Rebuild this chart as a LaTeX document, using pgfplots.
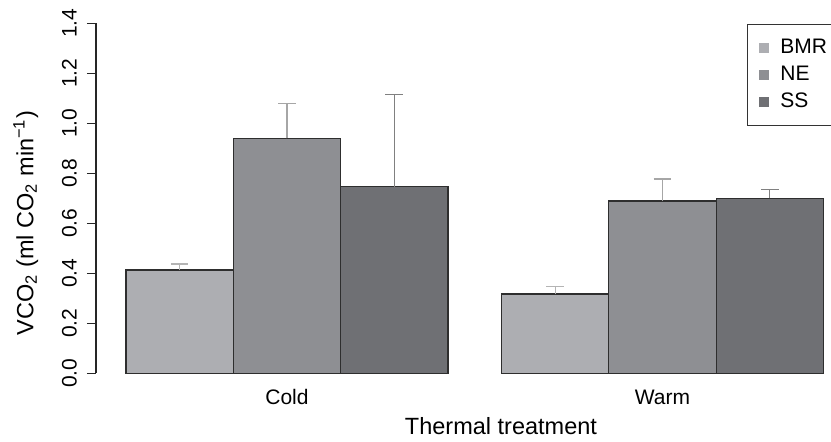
\documentclass[border=0pt]{standalone}
\usepackage{pgfplots}
\pgfplotsset{compat=1.18}
\usepackage{fontspec}
\setmainfont{Liberation Sans}
\definecolor{cB}{HTML}{ADAEB2}
\definecolor{cN}{HTML}{8E8F93}
\definecolor{cS}{HTML}{6F7074}
\definecolor{eB}{HTML}{B4B4B4}
\definecolor{eN}{HTML}{A6A6A6}
\definecolor{eS}{HTML}{808080}
\definecolor{bl}{HTML}{2E2E2E}
\pgfplotsset{
  sqleg/.style={legend image code/.code={\fill[##1,draw=none] (0pt,-2.4pt) rectangle (4.8pt,2.4pt);}},
  mybar/.style={ybar, bar width=1, bar shift=0pt, draw=bl, line width=0.6pt},
}
\begin{document}
\begin{tikzpicture}
\begin{axis}[name=ax, scale only axis, width=367.5pt, height=175pt,
  xmin=-0.2796, xmax=6.57, ymin=0, ymax=1.4, clip=false,
  axis y line*=left, axis x line*=bottom,
  x axis line style={draw=none},
  xtick={1.5,5}, xticklabels={Cold,Warm}, xtick style={draw=none},
  ytick={0,0.2,0.4,0.6,0.8,1.0,1.2,1.4},
  yticklabels={0.0,0.2,0.4,0.6,0.8,1.0,1.2,1.4},
  y axis line style={line width=0.6pt, color=black!85},
  ytick style={line width=0.6pt, color=black!85},
  tick align=outside, major tick length=4.5pt,
  yticklabel style={rotate=90, anchor=base, font=\fontsize{10.5}{12}\selectfont},
  yticklabel shift=5.15pt,
  xticklabel style={anchor=base, font=\fontsize{10.5}{12}\selectfont},
  xticklabel shift=11.2pt,
  xlabel={Thermal treatment},
  xlabel style={at={(axis description cs:0.551,-0.1743)}, anchor=base, font=\fontsize{11.75}{14}\selectfont},
  ylabel={VCO\textsubscript{2} (ml CO\textsubscript{2} min\textsuperscript{−1})},
  ylabel style={at={(axis description cs:-0.0853,0.429)}, anchor=base, font=\fontsize{11.75}{14}\selectfont},
  legend cell align=left,
  legend style={at={(axis description cs:0.886,0.998)}, anchor=north west,
    draw=black!80, line width=0.6pt, fill=white, inner xsep=5.7pt, inner ysep=5.0pt,
    font=\fontsize{10.5}{12}\selectfont,
    nodes={inner sep=1.5pt, text height=7.7pt, text depth=2.8pt},
    row sep=0pt, /tikz/every odd column/.append style={column sep=4.3pt}},
]
\addplot[mybar, fill=cB, sqleg,
  error bars/.cd, y dir=plus, y explicit,
  error bar style={color=eB, line width=0.6pt},
  error mark options={rotate=90, color=eB, line width=0.6pt, mark size=4.4pt}]
  coordinates {(0.5,0.413) +- (0,0.024) (4.0,0.317) +- (0,0.030)};
\addlegendentry{BMR}
\addplot[mybar, fill=cN, sqleg,
  error bars/.cd, y dir=plus, y explicit,
  error bar style={color=eN, line width=0.6pt},
  error mark options={rotate=90, color=eN, line width=0.6pt, mark size=4.4pt}]
  coordinates {(1.5,0.940) +- (0,0.138) (5.0,0.689) +- (0,0.088)};
\addlegendentry{NE}
\addplot[mybar, fill=cS, sqleg,
  error bars/.cd, y dir=plus, y explicit,
  error bar style={color=eS, line width=0.6pt},
  error mark options={rotate=90, color=eS, line width=0.6pt, mark size=4.4pt}]
  coordinates {(2.5,0.746) +- (0,0.370) (6.0,0.700) +- (0,0.034)};
\addlegendentry{SS}
\end{axis}
\pgfresetboundingbox
\useasboundingbox ([xshift=-48pt,yshift=-33.85pt]ax.south west) rectangle ([yshift=11.65pt]ax.north east);
\end{tikzpicture}
\end{document}
